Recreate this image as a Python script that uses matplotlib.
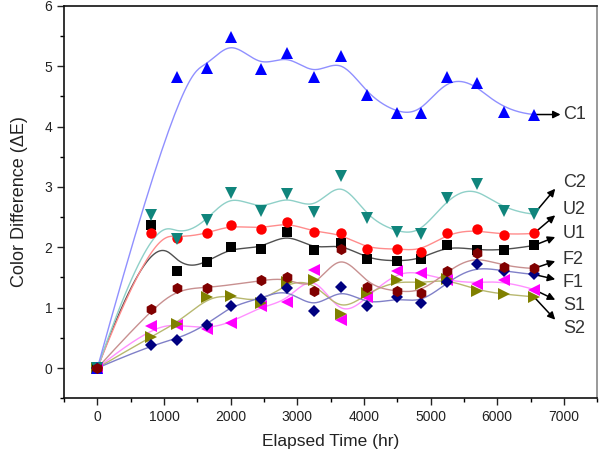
import numpy as np
import matplotlib
matplotlib.use("Agg")
import matplotlib.pyplot as plt
from matplotlib.ticker import MultipleLocator

plt.rcParams['font.family'] = ['Liberation Sans', 'DejaVu Sans']

# ---------------- data ----------------
hours = [0, 800, 1200, 1650, 2000, 2450, 2850, 3250, 3650, 4050, 4500, 4850, 5250, 5700, 6100, 6550]

C1 = [0, None, 4.82, 4.97, 5.48, 4.95, 5.22, 4.82, 5.17, 4.52, 4.22, 4.22, 4.82, 4.72, 4.25, 4.20]
C2 = [0, 2.53, 2.13, 2.45, 2.90, 2.60, 2.88, 2.58, 3.18, 2.48, 2.25, 2.22, 2.82, 3.05, 2.60, 2.55]
U2 = [0, 2.23, 2.15, 2.23, 2.37, 2.30, 2.42, 2.25, 2.23, 1.97, 1.98, 1.93, 2.23, 2.30, 2.20, 2.23]
U1 = [0, 2.37, 1.60, 1.75, 2.00, 1.97, 2.25, 1.95, 2.07, 1.80, 1.77, 1.80, 2.03, 1.95, 1.95, 2.03]
F2 = [0, 0.97, 1.33, 1.32, None, 1.45, 1.50, 1.27, 1.98, 1.35, 1.27, 1.25, 1.60, 1.90, 1.67, 1.65]
F1 = [0, 0.38, 0.47, 0.72, 1.03, 1.15, 1.33, 0.95, 1.35, 1.03, 1.17, 1.07, 1.42, 1.72, 1.60, 1.55]
S1 = [0, 0.70, 0.72, 0.65, 0.75, 1.02, 1.10, 1.63, 0.80, 1.18, 1.60, 1.58, 1.45, 1.40, 1.45, 1.30]
S2 = [0, 0.52, 0.73, 1.18, 1.20, 1.07, 1.42, 1.45, 0.90, 1.25, 1.45, 1.40, 1.48, 1.28, 1.22, 1.18]

series_names = ['S1', 'S2', 'F1', 'U1', 'U2', 'C2', 'C1', 'F2']
series_vals = {'C1': C1, 'C2': C2, 'U2': U2, 'U1': U1, 'F2': F2, 'F1': F1, 'S1': S1, 'S2': S2}

styles = {
    'C1': dict(marker='^', mc='#0000ff', lc='#9090ff', ms=8),
    'C2': dict(marker='v', mc='#10857c', lc='#8fd0c8', ms=8),
    'U2': dict(marker='o', mc='#ff0000', lc='#ff8c8c', ms=7.5),
    'U1': dict(marker='s', mc='#000000', lc='#505050', ms=6.5),
    'F2': dict(marker='h', mc='#800000', lc='#c89090', ms=8),
    'F1': dict(marker='D', mc='#000080', lc='#8080c8', ms=6.5),
    'S1': dict(marker='<', mc='#ff00ff', lc='#ff90ff', ms=8),
    'S2': dict(marker='>', mc='#808000', lc='#b8b870', ms=8),
}

# label placement: (label y, arrow head x, arrow head y)
label_pos = {
    'C1': (4.20, 6950, 4.20),
    'C2': (3.08, 6870, 2.97),
    'U2': (2.62, 6870, 2.53),
    'U1': (2.23, 6870, 2.17),
    'F2': (1.80, 6870, 1.77),
    'F1': (1.42, 6870, 1.47),
    'S1': (1.03, 6870, 1.13),
    'S2': (0.66, 6870, 0.80),
}


def bspline(px, py, n=400, k=3):
    P = np.column_stack([px, py]).astype(float)
    m = len(P)
    k = min(k, m - 1)
    knots = np.concatenate([np.zeros(k), np.linspace(0, 1, m - k + 1), np.ones(k)])
    t = np.linspace(0, 1, n)
    t[-1] = 1 - 1e-12
    nb = len(knots) - 1
    N = np.zeros((n, nb))
    for i in range(nb):
        N[:, i] = (knots[i] <= t) & (t < knots[i + 1])
    for d in range(1, k + 1):
        Nn = np.zeros((n, nb - d))
        for i in range(nb - d):
            a = knots[i + d] - knots[i]
            b = knots[i + d + 1] - knots[i + 1]
            term = np.zeros(n)
            if a > 0:
                term += (t - knots[i]) / a * N[:, i]
            if b > 0:
                term += (knots[i + d + 1] - t) / b * N[:, i + 1]
            Nn[:, i] = term
        N = Nn
    C = N @ P
    return C[:, 0], C[:, 1]


fig = plt.figure(figsize=(5.99, 4.53), dpi=100)
ax = fig.add_axes([0.107, 0.121, 0.890, 0.866])

for z, name in enumerate(series_names):
    vals = series_vals[name]
    xs = [h for h, v in zip(hours, vals) if v is not None]
    ys = [v for v in vals if v is not None]
    st = styles[name]
    cx, cy = bspline(xs, ys)
    ax.plot(cx, cy, color=st['lc'], lw=1.0, zorder=2 + z * 0.01)
    ax.plot(xs, ys, linestyle='none', marker=st['marker'], color=st['mc'],
            markersize=st['ms'], markeredgewidth=0, zorder=5 + z)
    ly, hx, hy = label_pos[name]
    ax.annotate('', xy=(hx, hy), xytext=(xs[-1], ys[-1]),
                arrowprops=dict(arrowstyle='-|>', color='black', lw=1.1,
                                mutation_scale=11, shrinkA=0, shrinkB=0),
                zorder=3, annotation_clip=False)
    ax.text(6985, ly, name, fontsize=13, color='#333333', va='center', ha='left',
            zorder=20, clip_on=False)

ax.set_xlim(-500, 7500)
ax.set_ylim(-0.5, 6)
ax.xaxis.set_major_locator(MultipleLocator(1000))
ax.xaxis.set_minor_locator(MultipleLocator(500))
ax.yaxis.set_major_locator(MultipleLocator(1))
ax.yaxis.set_minor_locator(MultipleLocator(0.5))
ax.tick_params(which='major', direction='out', length=5, width=1, labelsize=10,
               colors='#222222', top=False, right=False)
ax.tick_params(which='minor', direction='out', length=3, width=1, top=False, right=False)
for s in ['left', 'bottom', 'top']:
    ax.spines[s].set_linewidth(1.2)
    ax.spines[s].set_color('#111111')
ax.spines['right'].set_color('#888888')
ax.spines['right'].set_linewidth(1.2)

ax.set_xlabel('Elapsed Time (hr)', fontsize=12.5, color='#222222', labelpad=7)
ax.set_ylabel('Color Difference (\u0394E)', fontsize=13, color='#222222', labelpad=12)

fig.savefig('out.png', dpi=100)
